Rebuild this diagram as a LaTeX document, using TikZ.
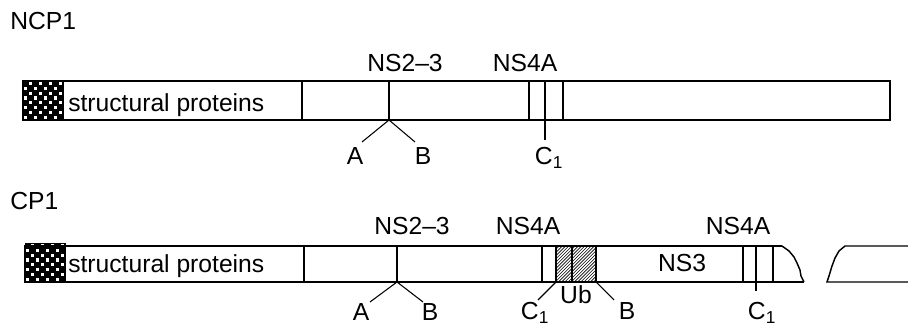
\documentclass[tikz,border=0pt]{standalone}
\usepackage{fontspec}
\setmainfont{Liberation Sans}

\newcommand{\Cone}{C\textsubscript{1}}
% checkerboard block, lower left corner at (#1,#2) in pixel units
\newcommand{\checkerblock}[2]{%
  \fill[black] (#1,#2) rectangle ++(40,-39);
  \foreach \i in {0,...,7}
    \foreach \j in {0,...,7}{
      \pgfmathtruncatemacro\k{mod(\i+\j,2)}
      \ifnum\k=0
        \fill[white] (#1+\i*5+0.9,#2-\j*4.875-0.9) rectangle ++(3.3,-3.2);
      \fi
    }
  \draw[thin] (#1,#2) rectangle ++(40,-39);
}

\tikzset{
  lbl/.style={inner sep=0pt, anchor=base, font=\fontsize{18.5}{22}\selectfont},
  lblw/.style={lbl, anchor=base west},
  bar/.style={line width=1.1pt},
  tick/.style={line width=0.8pt},
  hatch/.style={line width=0.45pt}
}

\begin{document}
\begin{tikzpicture}[x=0.75pt,y=-0.75pt]
  \useasboundingbox (0,0) rectangle (908,327);

  % NCP1
  \node[lblw] (ncp) at (10,30) {NCP1};
  \checkerblock{23}{120}
  \draw[bar] (23,81) rectangle (890,120);
  \draw[tick] (302,81) -- (302,120);
  \node[lblw] (sp1) at (68,112) {structural proteins};
  \node[lbl] (ns23a) at (405,72) {NS2--3};
  \node[lbl] (ns4aa) at (525,72) {NS4A};
  \draw[tick] (389,81) -- (389,120) coordinate (ab1);
  \coordinate (a1end) at (362,142);
  \coordinate (b1end) at (415,142);
  \draw[tick] (a1end) -- (ab1) -- (b1end);
  \node[lbl] (a1) at (355,165) {A};
  \node[lbl] (b1) at (423,165) {B};
  \draw[tick] (529,81) -- (529,120);
  \draw[tick] (563,81) -- (563,120);
  \coordinate (c1top) at (545,81);
  \coordinate (c1end) at (545,140);
  \draw[tick] (c1top) -- (c1end);
  \node[lbl] (c1) at (549,165) {\Cone};

  % CP1
  \node[lblw] (cp) at (10,210) {CP1};
  \checkerblock{25}{282}
  \draw[bar] (782,246) -- (25,246) -- (25,282) -- (804,282);
  \draw[bar] (782,246) -- (789,251) -- (794,257) -- (797,263) -- (800,270)
    -- (801,276) -- (804,282);
  \draw[bar] (908,282) -- (827,282) -- (829,276) -- (832,266) -- (835,258)
    -- (839,251) -- (845,246) -- (908,246);
  \draw[tick] (304,246) -- (304,282);
  \node[lblw] (sp2) at (68,273) {structural proteins};
  \node[lbl] (ns23b) at (412,235) {NS2--3};
  \node[lbl] (ns4ab) at (528,235) {NS4A};
  \node[lbl] (ns4ac) at (738,235) {NS4A};
  \draw[tick] (397,246) -- (397,282) coordinate (ab2);
  \coordinate (a2end) at (370,302);
  \coordinate (b2end) at (423,302);
  \draw[tick] (a2end) -- (ab2) -- (b2end);
  \node[lbl] (a2) at (361,321) {A};
  \node[lbl] (b2) at (430,321) {B};
  \draw[tick] (542,246) -- (542,282);
  % hatched ubiquitin block
  \begin{scope}
    \clip (556,246) rectangle (596,282);
    \foreach \s in {0,3.2,...,80}
      \draw[hatch] (556+\s-36,282) -- (556+\s,246);
  \end{scope}
  \draw[tick] (556,246) rectangle (596,282);
  \draw[tick] (572,246) -- (572,282);
  \coordinate (ubl) at (556,282);
  \coordinate (ubr) at (596,282);
  \coordinate (c2end) at (538,300);
  \coordinate (b3end) at (614,300);
  \draw[tick] (ubl) -- (c2end);
  \draw[tick] (ubr) -- (b3end);
  \node[lbl] (c2) at (535,320) {\Cone};
  \node[lbl] (ub) at (576,304) {Ub};
  \node[lbl] (b3) at (627,320) {B};
  \node[lbl] (ns3) at (682,272) {NS3};
  \draw[tick] (743,246) -- (743,282);
  \draw[tick] (773,246) -- (773,282);
  \coordinate (c3top) at (756,246);
  \coordinate (c3end) at (756,291);
  \draw[tick] (c3top) -- (c3end);
  \node[lbl] (c3) at (762,320) {\Cone};
\end{tikzpicture}
\end{document}
